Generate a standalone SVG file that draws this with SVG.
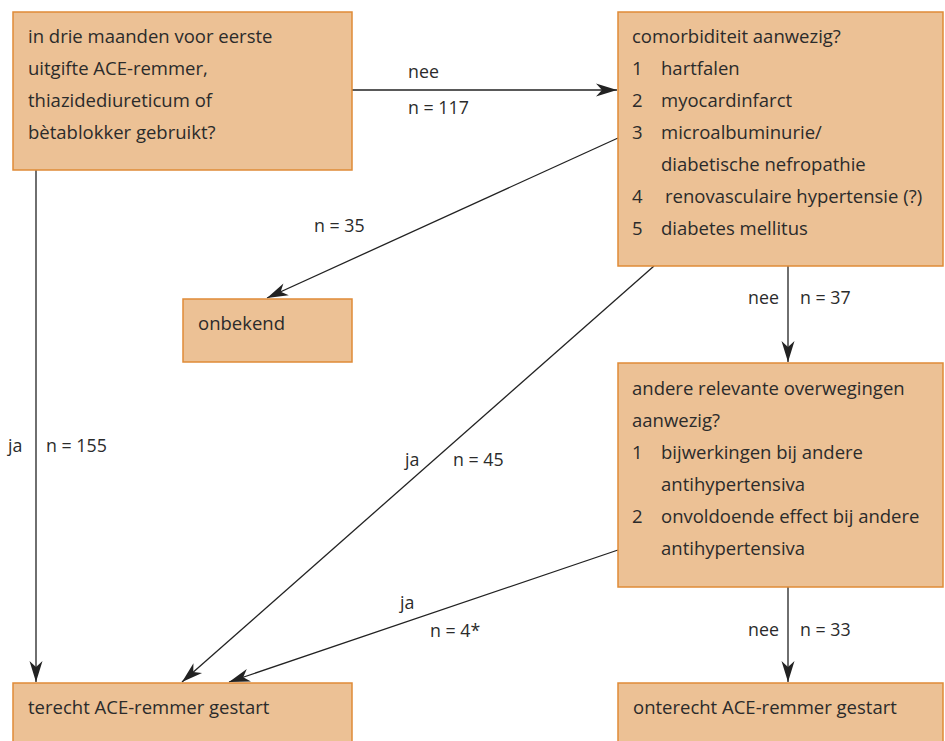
<svg xmlns="http://www.w3.org/2000/svg" width="945" height="741" viewBox="0 0 945 741">
<style>
.box{fill:#ecc195;stroke:#df8b37;stroke-width:1.5}
text{font-family:"Open Sans","Noto Sans",sans-serif;font-size:18.5px;fill:#2b2b2b}
.c{stroke:#222;stroke-width:1.3;fill:none;marker-end:url(#ah)}
.lbl{font-size:17.8px}
</style>
<defs>
<marker id="ah" markerUnits="userSpaceOnUse" viewBox="-22 -8 24 16" refX="0" refY="0" markerWidth="24" markerHeight="16" orient="auto">
<path d="M0,0 L-21,-6.5 L-15,0 L-21,6.5 Z" fill="#222"/>
</marker>
</defs>
<rect width="945" height="741" fill="#fff"/>
<g id="connectors">
<line class="c" x1="352" y1="90" x2="617" y2="90"/>
<line class="c" x1="618" y1="138" x2="267" y2="298"/>
<line class="c" x1="788" y1="266" x2="788" y2="362"/>
<line class="c" x1="654" y1="266" x2="182" y2="682"/>
<line class="c" x1="618" y1="550" x2="229" y2="682"/>
<line class="c" x1="36" y1="170" x2="36" y2="682"/>
<line class="c" x1="788" y1="587" x2="788" y2="682"/>
<text class="lbl" x="408" y="78">nee</text>
<text class="lbl" x="408" y="114">n = 117</text>
<text class="lbl" x="314" y="232">n = 35</text>
<text class="lbl" x="748" y="304">nee</text>
<text class="lbl" x="800" y="304">n = 37</text>
<text class="lbl" x="8" y="452">ja</text>
<text class="lbl" x="46" y="452">n = 155</text>
<text class="lbl" x="405" y="466">ja</text>
<text class="lbl" x="453" y="466">n = 45</text>
<text class="lbl" x="400" y="609">ja</text>
<text class="lbl" x="430" y="637">n = 4*</text>
<text class="lbl" x="748" y="636">nee</text>
<text class="lbl" x="800" y="636">n = 33</text>
</g>
<g id="n1">
<rect class="box" x="13" y="12" width="339" height="158"/>
<text x="28" y="43">in drie maanden voor eerste</text>
<text x="28" y="75">uitgifte ACE-remmer,</text>
<text x="28" y="107">thiazidediureticum of</text>
<text x="28" y="139">bètablokker gebruikt?</text>
</g>
<g id="n2">
<rect class="box" x="618" y="12" width="325" height="254"/>
<text x="632" y="43">comorbiditeit aanwezig?</text>
<text x="632" y="75">1</text><text x="661" y="75">hartfalen</text>
<text x="632" y="107">2</text><text x="661" y="107">myocardinfarct</text>
<text x="632" y="139">3</text><text x="661" y="139">microalbuminurie/</text>
<text x="661" y="171">diabetische nefropathie</text>
<text x="632" y="203">4</text><text x="665" y="203">renovasculaire hypertensie (?)</text>
<text x="632" y="235">5</text><text x="661" y="235">diabetes mellitus</text>
</g>
<g id="n3">
<rect class="box" x="183" y="299" width="169" height="63"/>
<text x="198" y="330">onbekend</text>
</g>
<g id="n4">
<rect class="box" x="618" y="363" width="325" height="224"/>
<text x="632" y="395">andere relevante overwegingen</text>
<text x="632" y="427">aanwezig?</text>
<text x="632" y="459">1</text><text x="661" y="459">bijwerkingen bij andere</text>
<text x="661" y="491">antihypertensiva</text>
<text x="632" y="523">2</text><text x="661" y="523">onvoldoende effect bij andere</text>
<text x="661" y="555">antihypertensiva</text>
</g>
<g id="n5">
<rect class="box" x="13" y="683" width="339" height="70"/>
<text x="28" y="714">terecht ACE-remmer gestart</text>
</g>
<g id="n6">
<rect class="box" x="618" y="683" width="325" height="70"/>
<text x="633" y="714">onterecht ACE-remmer gestart</text>
</g>
</svg>
